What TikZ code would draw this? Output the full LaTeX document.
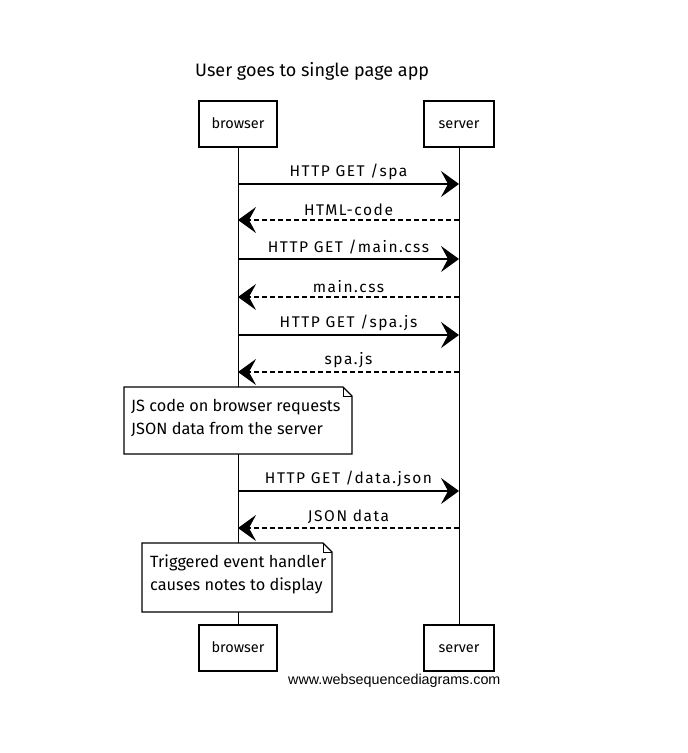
\documentclass[tikz,border=0pt]{standalone}
\usepackage{fontspec}
\setmainfont{Fira Sans}
\newfontfamily\lblfont[LetterSpace=10]{Fira Sans}
\newfontfamily\wsdfont{Liberation Sans}
\usetikzlibrary{arrows.meta}
\tikzset{
  actor/.style={draw=black, line width=1.2pt, fill=white, minimum width=78pt, minimum height=46pt, inner sep=0pt, text height=11pt, text depth=2pt, font=\fontsize{14.5}{16}\selectfont},
  lifeline/.style={draw=black, line width=0.9pt},
  req/.style={draw=black, line width=1.4pt, -{Stealth[length=18pt,width=26pt,inset=7pt]}},
  resp/.style={draw=black, line width=1.2pt, dash pattern=on 5pt off 3pt, -{Stealth[length=18pt,width=26pt,inset=7pt]}},
  msglabel/.style={font=\lblfont\fontsize{15.5}{16}\selectfont, inner sep=0pt, above=4pt},
  notebox/.style={draw=black, line width=1.1pt, fill=white},
  notetext/.style={font=\fontsize{16.3}{23}\selectfont, align=left, inner sep=0pt},
}
\begin{document}
\begin{tikzpicture}[x=1pt,y=-1pt]
\useasboundingbox (0,0) rectangle (688,753);

% title
\node[anchor=west, inner sep=0pt, font=\fontsize{18}{20}\selectfont] (title) at (195,71) {User goes to single page app};

% lifelines (drawn first, notes cover them)
\coordinate (btop) at (238,147);
\coordinate (bbot) at (238,625);
\coordinate (stop) at (459,147);
\coordinate (sbot) at (459,625);
\draw[lifeline] (btop) -- (bbot);
\draw[lifeline] (stop) -- (sbot);

% actors
\node[actor] (browserTop) at (238,124) {browser};
\node[actor, minimum width=70pt] (serverTop) at (459,124) {server};
\node[actor] (browserBot) at (238,648) {browser};
\node[actor, minimum width=70pt] (serverBot) at (459,648) {server};

% messages
\coordinate (b1) at (238,184); \coordinate (s1) at (459,184);
\coordinate (b2) at (238,220); \coordinate (s2) at (459,220);
\coordinate (b3) at (238,259); \coordinate (s3) at (459,259);
\coordinate (b4) at (238,297); \coordinate (s4) at (459,297);
\coordinate (b5) at (238,335); \coordinate (s5) at (459,335);
\coordinate (b6) at (238,372); \coordinate (s6) at (459,372);
\coordinate (b7) at (238,491); \coordinate (s7) at (459,491);
\coordinate (b8) at (238,528); \coordinate (s8) at (459,528);

\draw[req] (b1) -- node[msglabel] (m1) {HTTP GET /spa} (s1);
\draw[resp] (s2) -- node[msglabel] (m2) {HTML-code} (b2);
\draw[req] (b3) -- node[msglabel] (m3) {HTTP GET /main.css} (s3);
\draw[resp] (s4) -- node[msglabel] (m4) {main.css} (b4);
\draw[req] (b5) -- node[msglabel] (m5) {HTTP GET /spa.js} (s5);
\draw[resp] (s6) -- node[msglabel] (m6) {spa.js} (b6);
\draw[req] (b7) -- node[msglabel] (m7) {HTTP GET /data.json} (s7);
\draw[resp] (s8) -- node[msglabel] (m8) {JSON data} (b8);

% note 1
\draw[notebox] (124,387) -- (343,387) -- (352,396) -- (352,454) -- (124,454) -- cycle;
\draw[line width=0.8pt] (343,387) -- (343,396) -- (352,396);
\node[notetext, anchor=north west] (note1) at (131,399) {JS code on browser requests\\JSON data from the server};

% note 2
\draw[notebox] (142,543) -- (323,543) -- (332,552) -- (332,612) -- (142,612) -- cycle;
\draw[line width=0.8pt] (323,543) -- (323,552) -- (332,552);
\node[notetext, anchor=north west] (note2) at (150,555) {Triggered event handler\\causes notes to display};

% watermark
\node[anchor=west, inner sep=0pt, font=\wsdfont\fontsize{14.3}{16}\selectfont] (wm) at (288,681) {www.websequencediagrams.com};
\end{tikzpicture}
\end{document}
